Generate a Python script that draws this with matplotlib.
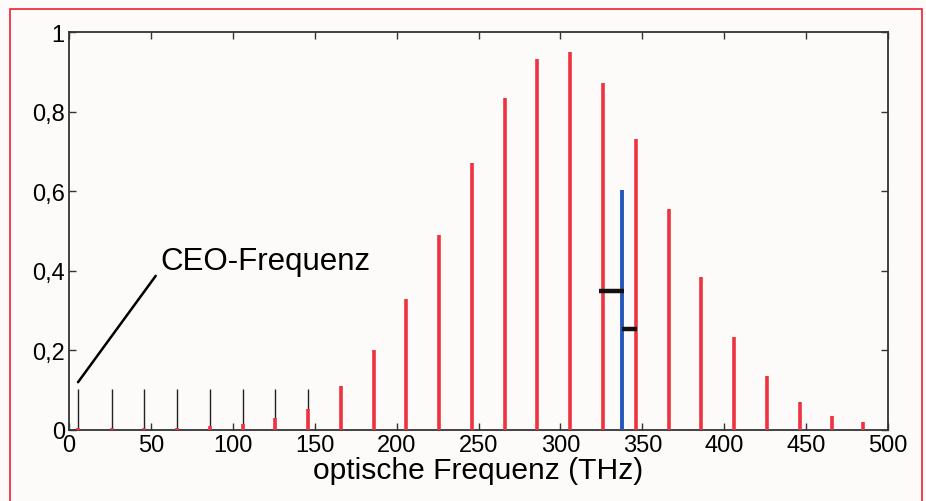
import matplotlib
matplotlib.use("Agg")
import matplotlib.pyplot as plt
from matplotlib.patches import Rectangle
from matplotlib.ticker import FuncFormatter

plt.rcParams['font.family'] = ['Liberation Sans', 'DejaVu Sans']

# comb lines (THz) and relative amplitudes
freqs = [5.5, 26, 46, 66, 86, 106, 126, 146, 166, 186, 206, 226, 246,
         266, 286, 306, 326, 346, 366, 386, 406, 426, 446, 466, 485]
amps = [0.005, 0.005, 0.006, 0.006, 0.01, 0.015, 0.03, 0.053, 0.11, 0.20,
        0.33, 0.49, 0.67, 0.835, 0.932, 0.95, 0.872, 0.731, 0.555, 0.384,
        0.234, 0.136, 0.07, 0.035, 0.021]
# CEO lines (black) for the low-frequency part
ceo_freqs = [5.5, 26, 46, 66, 86, 106, 126, 146]
ceo_amps = [0.103] * 8
# blue line
blue_freq = 337.5
blue_amp = 0.604
# black horizontal markers: (x0, x1, y)
markers = [(323.8, 338.9, 0.35), (337.6, 346.6, 0.253)]

bg = '#fdfbfa'
fig = plt.figure(figsize=(9.26, 5.02), dpi=100, facecolor=bg)
ax = fig.add_axes([69/926, 1-431/502, (888-69)/926, (431-33)/502])
ax.set_facecolor(bg)

ax.vlines(ceo_freqs, 0, ceo_amps, colors='#222222', linewidth=1.0, zorder=2)
ax.vlines(freqs, 0, amps, colors='#ee3340', linewidth=2.6, zorder=3)
ax.vlines([blue_freq], 0, [blue_amp], colors='#2458b8', linewidth=2.8, zorder=4)
for x0, x1, y in markers:
    ax.hlines(y, x0, x1, colors='#111111', linewidth=3.2, zorder=5)

ax.annotate('CEO-Frequenz', xy=(5.5, 0.12), xytext=(55.5, 0.425),
            fontsize=22.5, va='center', ha='left',
            arrowprops=dict(arrowstyle='-', color='black', lw=1.8,
                            shrinkA=0, shrinkB=0, relpos=(-0.02, 0.0)))

ax.set_xlim(0, 500)
ax.set_ylim(0, 1)
ax.set_xticks([0, 50, 100, 150, 200, 250, 300, 350, 400, 450, 500])
ax.set_yticks([0, 0.2, 0.4, 0.6, 0.8, 1.0])
ax.yaxis.set_major_formatter(FuncFormatter(
    lambda v, p: '0' if v == 0 else ('1' if v == 1 else f'{v:.1f}'.replace('.', ','))))
ax.tick_params(direction='in', length=5, width=1, top=True, right=True,
               labelsize=17, colors='#333333', labelcolor='black', pad=3)
for s in ax.spines.values():
    s.set_color('#333333')
    s.set_linewidth(1.3)
ax.set_xlabel('optische Frequenz (THz)', fontsize=21.6, labelpad=0)

fig.patches.append(Rectangle((10/926, -0.05), (922-10)/926, 1.05 - 10/502,
                             transform=fig.transFigure, fill=False,
                             edgecolor='#ee2030', linewidth=1.2))

fig.savefig('out.png', dpi=100, facecolor=bg)
